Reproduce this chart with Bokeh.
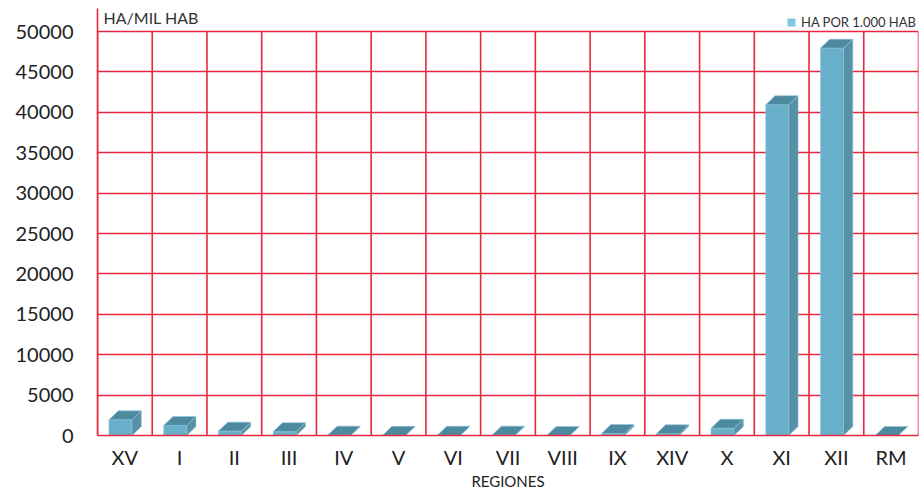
import numpy as np
from bokeh.plotting import figure
from bokeh.models import (Range1d, FixedTicker, Label, Legend, LegendItem)
from bokeh.embed import file_html
from bokeh.resources import INLINE

# ---- data ----
regions = ["XV", "I", "II", "III", "IV", "V", "VI", "VII", "VIII", "IX", "XIV", "X", "XI", "XII", "RM"]
ha_por_mil = [1950, 1250, 550, 480, 60, 30, 40, 60, 20, 250, 220, 900, 40950, 47950, 10]
y_ticks = [0, 5000, 10000, 15000, 20000, 25000, 30000, 35000, 40000, 45000, 50000]
series_name = "HA POR 1.000 HAB"
y_title = "HA/MIL HAB"
x_title = "REGIONES"

FONT = "Lato"
GRID = "#e6283f"
FRONT = "#68b0ca"
TOP = "#4d899f"
SIDE = "#5691a7"

n = len(regions)
centers = np.arange(n) + 0.5
vals = np.array(ha_por_mil, dtype=float)

p = figure(width=922, height=492, output_backend="svg", toolbar_location=None,
           x_range=Range1d(0, n), y_range=Range1d(0, 52850),
           min_border_left=97, min_border_right=4, min_border_top=8, min_border_bottom=57)
p.outline_line_color = None
p.background_fill_color = "white"

# grids
p.xgrid.visible = False
p.ygrid.ticker = FixedTicker(ticks=y_ticks)
p.ygrid.grid_line_color = GRID
p.ygrid.grid_line_width = 1.6
p.segment(x0=np.arange(n + 1), x1=np.arange(n + 1), y0=0, y1=max(y_ticks),
          line_color=GRID, line_width=1.6)

# axes
p.yaxis.ticker = FixedTicker(ticks=y_ticks)
p.yaxis.major_tick_out = 0
p.yaxis.major_tick_in = 0
p.yaxis.minor_tick_out = 0
p.yaxis.minor_tick_in = 0
p.yaxis.major_label_standoff = 24
p.yaxis.axis_line_color = GRID
p.yaxis.axis_line_width = 1.6
p.yaxis.major_label_text_font = FONT
p.yaxis.major_label_text_font_size = "20px"
p.yaxis.major_label_text_color = "#222222"
p.yaxis.formatter.use_scientific = False

p.xaxis.ticker = FixedTicker(ticks=list(centers))
p.xaxis.major_label_overrides = {float(c): r for c, r in zip(centers, regions)}
p.xaxis.major_tick_out = 0
p.xaxis.major_tick_in = 0
p.xaxis.minor_tick_out = 0
p.xaxis.major_label_standoff = 9
p.xaxis.axis_line_color = GRID
p.xaxis.axis_line_width = 1.6
p.xaxis.major_label_text_font = FONT
p.xaxis.major_label_text_font_size = "20px"
p.xaxis.major_label_text_color = "#222222"
p.xaxis.axis_label = x_title
p.xaxis.axis_label_text_font = FONT
p.xaxis.axis_label_text_font_size = "15px"
p.xaxis.axis_label_text_font_style = "normal"
p.xaxis.axis_label_text_color = "#222222"
p.xaxis.axis_label_standoff = 0

# 3D bars
dx, dy = 0.17, 1100.0
x0 = centers - 0.29
x1 = centers + 0.13
side_xs = [[a, a + dx, a + dx, a] for a in x1]
side_ys = [[0, dy, v + dy, v] for v in vals]
top_xs = [[a, b, b + dx, a + dx] for a, b in zip(x0, x1)]
top_ys = [[v, v, v + dy, v + dy] for v in vals]

p.quad(left=x0, right=x1, bottom=0, top=vals, fill_color=FRONT, line_color="#8cc4d8", line_width=0.6)
p.patches(side_xs, side_ys, fill_color=SIDE, line_color="#8cc4d8", line_width=0.6)
p.patches(top_xs, top_ys, fill_color=TOP, line_color="#8cc4d8", line_width=0.6)

# legend (swatch from an off-screen quad so the box is filled)
dummy = p.quad(left=[-3], right=[-2], bottom=[-3], top=[-2], fill_color="#7ec8e3", line_color=None)
legend = Legend(items=[LegendItem(label=series_name, renderers=[dummy])],
                location=(689, 405), orientation="horizontal",
                background_fill_alpha=0, border_line_alpha=0,
                label_text_font=FONT, label_text_font_size="13px", label_text_color="#333333",
                glyph_width=10, glyph_height=10, padding=0, margin=0, label_standoff=5,
                label_height=14)
p.add_layout(legend, "center")

# y title
p.add_layout(Label(x=0, y=51700, x_offset=6, text=y_title, text_font=FONT,
                   text_font_size="16px", text_color="#333333", text_baseline="middle"))

open("out.html", "w").write(file_html(p, INLINE))
